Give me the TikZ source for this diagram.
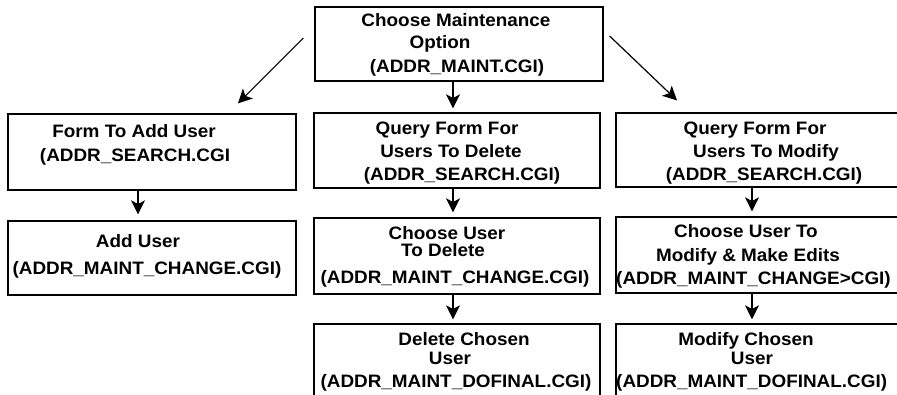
\documentclass[tikz,border=0pt]{standalone}
\usepackage{fontspec}
\setmainfont{Liberation Sans}[FakeStretch=1.05]
\usetikzlibrary{arrows.meta}

\begin{document}
\begin{tikzpicture}[x=1pt, y=-1pt,
  box/.style={draw, line width=1.2pt, inner sep=0pt},
  txt/.style={anchor=base, inner sep=0pt, font=\fontsize{18pt}{22pt}\selectfont\bfseries},
  txtl/.style={txt, anchor=base west},
  arr/.style={line width=1.2pt, -{Stealth[length=14pt, width=14pt, inset=3.5pt]}}]
\useasboundingbox (0,0) rectangle (897,395);
\clip (0,0) rectangle (897,395);

% boxes
\node[box, minimum width=288pt, minimum height=74pt] (top) at (459,44) {};
\node[box, minimum width=288pt, minimum height=76pt] (L1) at (152,152) {};
\node[box, minimum width=288pt, minimum height=74pt] (L2) at (152,258) {};
\node[box, minimum width=286pt, minimum height=75pt] (M1) at (457,150.5) {};
\node[box, minimum width=286pt, minimum height=76pt] (M2) at (457,256) {};
\node[box, minimum width=286pt, minimum height=96pt] (M3) at (457,372) {};
\node[box, minimum width=294pt, minimum height=74pt] (R1) at (763,150) {};
\node[box, minimum width=294pt, minimum height=76pt] (R2) at (763,255) {};
\node[box, minimum width=294pt, minimum height=96pt] (R3) at (763,372) {};

% labels
\node[txt] (t0a) at (456,27) {Choose Maintenance};
\node[txt] (t0b) at (440,49) {Option};
\node[txt] (t0c) at (457,73) {(ADDR\_MAINT.CGI)};

\node[txt] (t1a) at (134,138) {Form To Add User};
\node[txt] (t1b) at (135,162) {(ADDR\_SEARCH.CGI};

\node[txt] (t2a) at (138,248) {Add User};
\node[txt] (t2b) at (147,275) {(ADDR\_MAINT\_CHANGE.CGI)};

\node[txt] (t3a) at (447,135) {Query Form For};
\node[txt] (t3b) at (451,158) {Users To Delete};
\node[txt] (t3c) at (462,181) {(ADDR\_SEARCH.CGI)};

\node[txt] (t4a) at (447,240) {Choose User};
\node[txt] (t4b) at (443,257) {To Delete};
\node[txt] (t4c) at (455,284) {(ADDR\_MAINT\_CHANGE.CGI)};

\node[txt] (t5a) at (464,345) {Delete Chosen};
\node[txt] (t5b) at (450,364) {User};
\node[txt] (t5c) at (456,387) {(ADDR\_MAINT\_DOFINAL.CGI)};

\node[txt] (t6a) at (755,135) {Query Form For};
\node[txt] (t6b) at (766,158) {Users To Modify};
\node[txt] (t6c) at (764,181) {(ADDR\_SEARCH.CGI)};

\node[txt] (t7a) at (746,238) {Choose User To};
\node[txt] (t7b) at (748,262) {Modify \& Make Edits};
\node[txtl] (t7c) at (616,285) {(ADDR\_MAINT\_CHANGE>CGI)};

\node[txt] (t8a) at (746,345) {Modify Chosen};
\node[txt] (t8b) at (752,364) {User};
\node[txtl] (t8c) at (616,387) {(ADDR\_MAINT\_DOFINAL.CGI)};

% connectors
\draw[arr] ([shift={(-11pt,6pt)}]top.west) -- ([shift={(86pt,10pt)}]L1.north);
\draw[arr] ([shift={(6pt,8pt)}]top.east) -- ([shift={(-86pt,12pt)}]R1.north);
\draw[arr, shorten >=4pt] ([xshift=-6pt]top.south) -- ([xshift=-6pt]top.south |- M1.north);
\draw[arr, shorten >=6pt] ([xshift=-14pt]L1.south) -- ([xshift=-14pt]L1.south |- L2.north);
\draw[arr, shorten >=5pt] ([xshift=-4pt]M1.south) -- ([xshift=-4pt]M1.south |- M2.north);
\draw[arr, shorten >=4pt] ([xshift=-4pt]M2.south) -- ([xshift=-4pt]M2.south |- M3.north);
\draw[arr, shorten >=5pt] ([xshift=-11pt]R1.south) -- ([xshift=-11pt]R1.south |- R2.north);
\draw[arr, shorten >=4pt] ([xshift=-11pt]R2.south) -- ([xshift=-11pt]R2.south |- R3.north);
\end{tikzpicture}
\end{document}
